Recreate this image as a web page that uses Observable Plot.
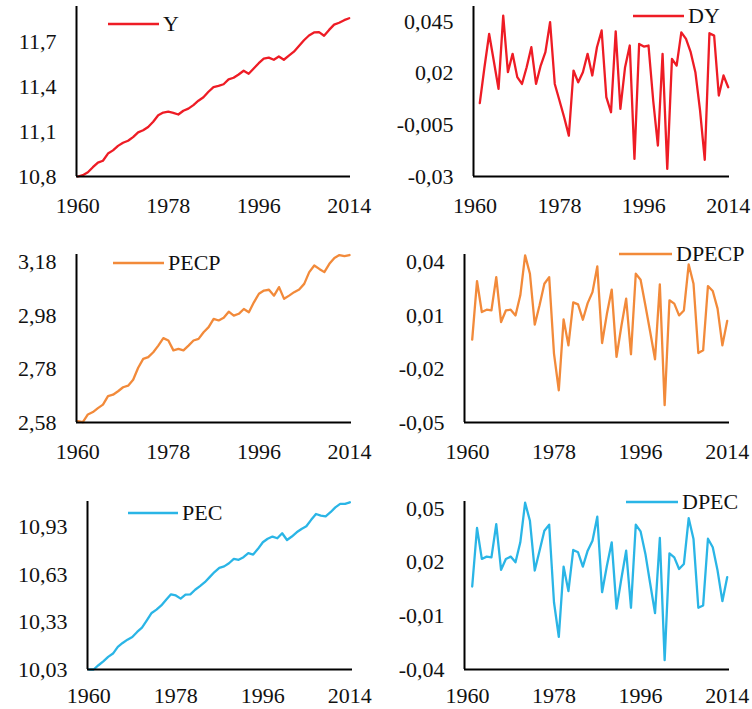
<!DOCTYPE html>
<html>
<head>
<meta charset="utf-8">
<script src="https://cdn.jsdelivr.net/npm/d3@7"></script>
<script src="https://cdn.jsdelivr.net/npm/@observablehq/plot@0.6"></script>
<style>
  html, body { margin: 0; padding: 0; background: #fff; }
  #chart { position: relative; width: 752px; height: 709px; background: #fff; overflow: hidden; }
  #chart svg { position: absolute; overflow: visible; }
</style>
</head>
<body>
<div id="chart"></div>
<script>
// ---- data ----
const years = d3.range(1960, 2015);          // 1960..2014
const diffYears = d3.range(1961, 2015);      // 1961..2014
const xTicks = [1960, 1978, 1996, 2014];

const Y = [10.800, 10.809, 10.828, 10.862, 10.893, 10.905, 10.953, 10.974, 11.004, 11.025,
  11.038, 11.062, 11.094, 11.108, 11.130, 11.165, 11.208, 11.226, 11.232, 11.224,
  11.213, 11.238, 11.252, 11.276, 11.305, 11.328, 11.365, 11.396, 11.404, 11.415,
  11.447, 11.458, 11.480, 11.505, 11.485, 11.520, 11.555, 11.585, 11.592, 11.578,
  11.600, 11.578, 11.605, 11.632, 11.670, 11.708, 11.740, 11.760, 11.762, 11.738,
  11.777, 11.812, 11.825, 11.842, 11.855];

const DY = [0.0055, 0.0229, 0.0390, 0.0258, 0.0124, 0.0479, 0.0205, 0.0294, 0.0181, 0.0148,
  0.0229, 0.0326, 0.0148, 0.0237, 0.0302, 0.0447, 0.0148, 0.0068, -0.0013, -0.0102,
  0.0213, 0.0156, 0.0205, 0.0294, 0.0189, 0.0326, 0.0407, 0.0084, 0.0011, 0.0403,
  0.0027, 0.0229, 0.0334, -0.0215, 0.0342, 0.0329, 0.0334, 0.0068, -0.0150, 0.0294,
  -0.0263, 0.0269, 0.0237, 0.0398, 0.0366, 0.0302, 0.0205, 0.0019, -0.0219, 0.0394,
  0.0382, 0.0092, 0.0189, 0.0132];

const PECP = [2.585, 2.581, 2.610, 2.619, 2.634, 2.647, 2.679, 2.684, 2.697, 2.712,
  2.718, 2.740, 2.785, 2.818, 2.825, 2.843, 2.868, 2.896, 2.887, 2.850,
  2.856, 2.850, 2.868, 2.887, 2.893, 2.918, 2.937, 2.968, 2.962, 2.972,
  2.995, 2.980, 2.987, 3.005, 2.993, 3.030, 3.062, 3.074, 3.077, 3.055,
  3.087, 3.043, 3.055, 3.068, 3.078, 3.099, 3.143, 3.168, 3.155, 3.143,
  3.174, 3.196, 3.207, 3.203, 3.207];

const DPECP = [-0.0035, 0.0294, 0.0120, 0.0133, 0.0129, 0.0316, 0.0064, 0.0129, 0.0133, 0.0101,
  0.0214, 0.0438, 0.0335, 0.0049, 0.0158, 0.0279, 0.0316, -0.0113, -0.0319, 0.0079,
  -0.0067, 0.0174, 0.0163, 0.0077, 0.0170, 0.0232, 0.0376, -0.0054, 0.0110, 0.0246,
  -0.0132, 0.0040, 0.0195, -0.0117, 0.0335, 0.0301, 0.0157, 0.0008, -0.0145, 0.0275,
  -0.0403, 0.0186, 0.0167, 0.0101, 0.0129, 0.0387, 0.0279, -0.0110, -0.0095, 0.0266,
  0.0238, 0.0139, -0.0067, 0.0070];

const PEC = [10.030, 10.030, 10.057, 10.082, 10.110, 10.131, 10.173, 10.198, 10.219, 10.236,
  10.268, 10.295, 10.341, 10.388, 10.409, 10.436, 10.472, 10.506, 10.499, 10.479,
  10.504, 10.506, 10.535, 10.558, 10.583, 10.615, 10.647, 10.674, 10.683, 10.703,
  10.731, 10.725, 10.741, 10.767, 10.758, 10.794, 10.836, 10.858, 10.872, 10.861,
  10.893, 10.850, 10.872, 10.899, 10.920, 10.937, 10.978, 11.015, 11.005, 11.000,
  11.026, 11.057, 11.079, 11.079, 11.089];

const DPEC = [0.0064, 0.0391, 0.0218, 0.0231, 0.0227, 0.0413, 0.0157, 0.0218, 0.0231, 0.0199,
  0.0311, 0.0532, 0.0431, 0.0153, 0.0264, 0.0376, 0.0409, -0.0024, -0.0218, 0.0175,
  0.0038, 0.0268, 0.0255, 0.0175, 0.0264, 0.0320, 0.0454, 0.0032, 0.0180, 0.0311,
  -0.0060, 0.0107, 0.0264, -0.0055, 0.0409, 0.0372, 0.0246, 0.0079, -0.0085, 0.0335,
  -0.0348, 0.0249, 0.0227, 0.0162, 0.0190, 0.0446, 0.0329, -0.0055, -0.0042, 0.0331,
  0.0283, 0.0153, -0.0018, 0.0116];

const yTicksY = [10.8, 11.1, 11.4, 11.7];
const yTicksDY = [-0.03, -0.005, 0.02, 0.045];
const yTicksPECP = [2.58, 2.78, 2.98, 3.18];
const yTicksDPECP = [-0.05, -0.02, 0.01, 0.04];
const yTicksPEC = [10.03, 10.33, 10.63, 10.93];
const yTicksDPEC = [-0.04, -0.01, 0.02, 0.05];

const RED = "#ee1c25", ORANGE = "#f28a3a", BLUE = "#2ab5e6";
const FONT = "Liberation Serif, Times New Roman, serif";

const panels = [
  {name: "Y", xs: years, vs: Y, color: RED, left: 0, top: 0, h: 230, ml: 76, mr: 26, mt: 6, mb: 54,
   xdom: [1959.74, 2014.26], ydom: [10.8, 11.933], ticks: yTicksY, pad: 21, leg: [108, 159, 24]},
  {name: "DY", xs: diffYears, vs: DY, color: RED, left: 376, top: 0, h: 230, ml: 97, mr: 23, mt: 6, mb: 54,
   xdom: [1959.66, 2014.28], ydom: [-0.03, 0.0523], ticks: yTicksDY, pad: 21, leg: [257, 308, 16]},
  {name: "PECP", xs: years, vs: PECP, color: ORANGE, left: 0, top: 230, h: 230, ml: 76, mr: 25, mt: 24, mb: 38,
   xdom: [1959.74, 2014.4], ydom: [2.58, 3.209], ticks: yTicksPECP, pad: 21, leg: [113, 164, 33]},
  {name: "DPECP", xs: diffYears, vs: DPECP, color: ORANGE, left: 376, top: 230, h: 230, ml: 88, mr: 23, mt: 24, mb: 38,
   xdom: [1959.40, 2014.48], ydom: [-0.05, 0.0443], ticks: yTicksDPECP, pad: 21, leg: [243, 296, 24]},
  {name: "PEC", xs: years, vs: PEC, color: BLUE, left: 0, top: 460, h: 249, ml: 87, mr: 24, mt: 41, mb: 40,
   xdom: [1959.73, 2014.55], ydom: [10.03, 11.094], ticks: yTicksPEC, pad: 18, leg: [128, 178, 53]},
  {name: "DPEC", xs: diffYears, vs: DPEC, color: BLUE, left: 376, top: 460, h: 249, ml: 88, mr: 23, mt: 41, mb: 40,
   xdom: [1959.40, 2014.48], ydom: [-0.04, 0.0539], ticks: yTicksDPEC, pad: 18, leg: [250, 302, 42]}
];

const chart = document.getElementById("chart");
const fmt = v => String(+v.toFixed(4)).replace(".", ",");

for (const p of panels) {
  const rows = p.xs.map((x, i) => ({year: x, value: p.vs[i]}));
  const svg = Plot.plot({
    width: 376,
    height: p.h,
    marginLeft: p.ml, marginRight: p.mr, marginTop: p.mt, marginBottom: p.mb,
    style: {fontFamily: FONT, fontSize: "22px", color: "#111", background: "transparent", overflow: "visible"},
    x: {domain: p.xdom},
    y: {domain: p.ydom},
    marks: [
      Plot.axisX({ticks: xTicks, tickFormat: d => String(d), tickSize: 0, tickPadding: p.pad, label: null, fontSize: 22}),
      Plot.axisY({ticks: p.ticks, tickFormat: fmt, tickSize: 0, tickPadding: 20, label: null, fontSize: 22}),
      Plot.line(rows, {x: "year", y: "value", stroke: p.color, strokeWidth: 2.3, strokeLinejoin: "round"}),
      Plot.ruleX([p.xdom[0]], {y1: p.ydom[0], y2: p.ydom[1], stroke: "#000", strokeWidth: 2}),
      Plot.ruleY([p.ydom[0]], {x1: p.xdom[0], x2: p.xdom[1], stroke: "#000", strokeWidth: 2})
    ]
  });
  svg.style.left = p.left + "px";
  svg.style.top = p.top + "px";
  // legend
  const g = d3.select(svg).append("g");
  g.append("line")
    .attr("x1", p.leg[0]).attr("x2", p.leg[1])
    .attr("y1", p.leg[2]).attr("y2", p.leg[2])
    .attr("stroke", p.color).attr("stroke-width", 2.5);
  g.append("text")
    .attr("x", p.leg[1] + 4).attr("y", p.leg[2])
    .attr("dy", "0.34em")
    .attr("text-anchor", "start")
    .attr("font-family", FONT).attr("font-size", 22).attr("fill", "#111")
    .text(p.name);
  chart.appendChild(svg);
}
</script>
</body>
</html>
